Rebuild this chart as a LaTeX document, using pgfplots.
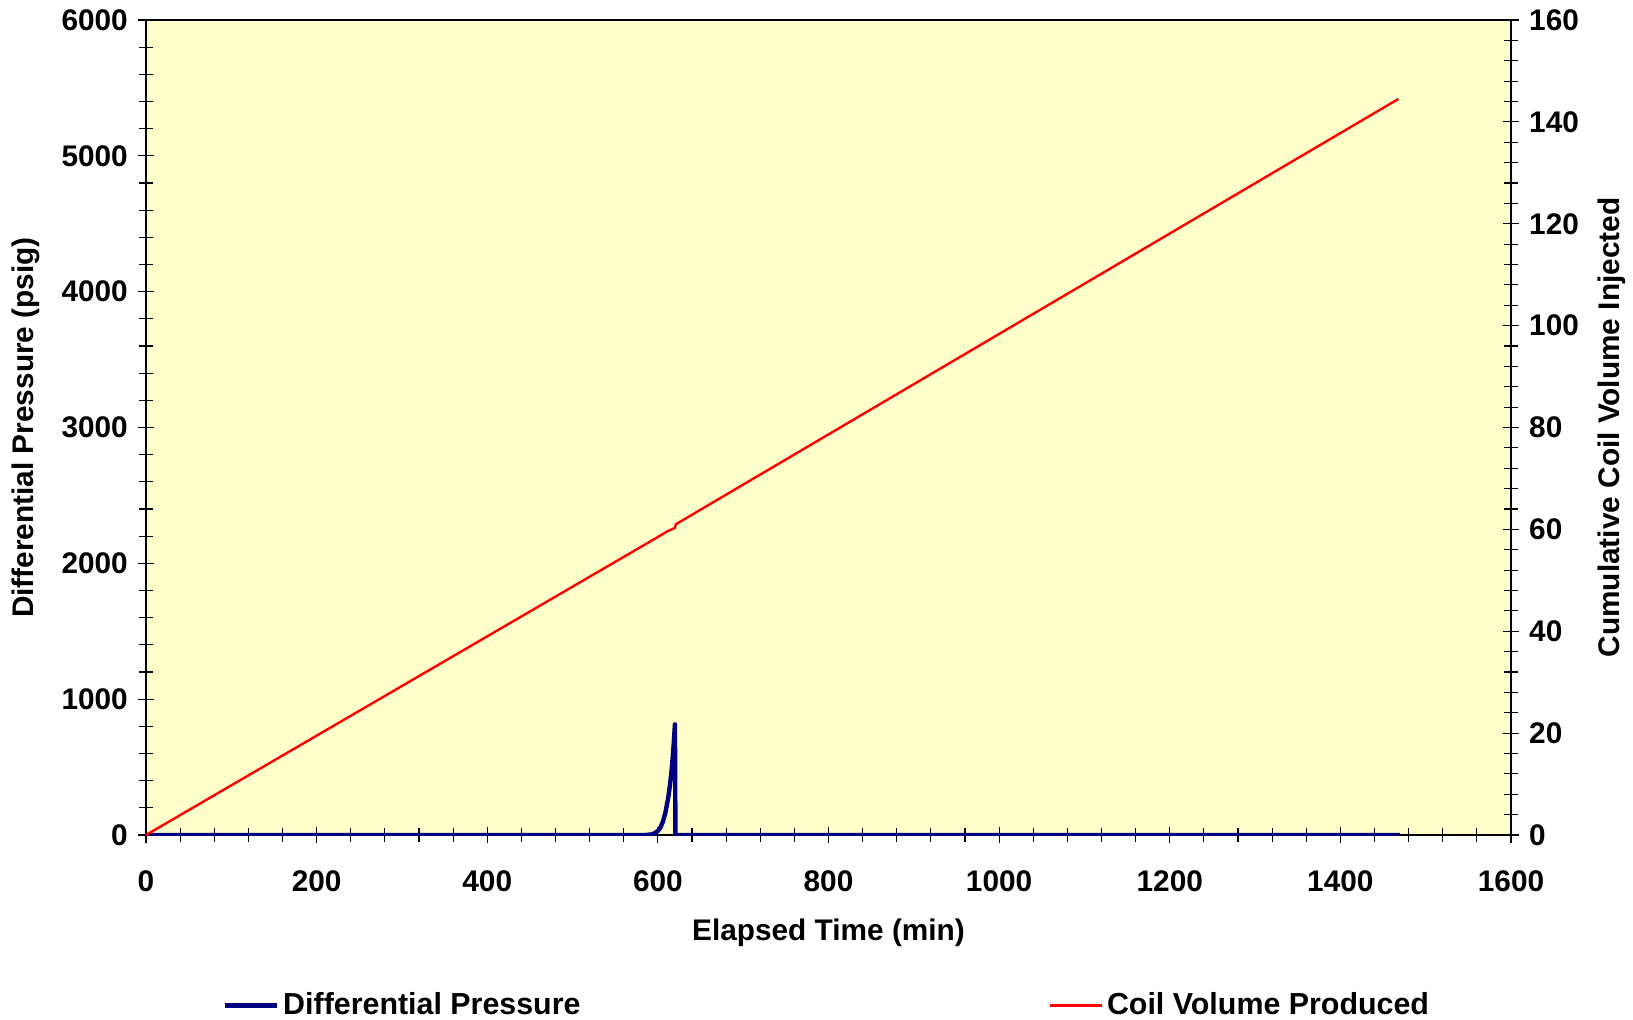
\documentclass[border=0pt]{standalone}
\usepackage{pgfplots}
\pgfplotsset{compat=1.18}
\usepackage{fontspec}
\setmainfont{Liberation Sans}
\definecolor{bgyellow}{HTML}{FFFFCC}
\definecolor{dpblue}{HTML}{000080}
\begin{document}
\fontsize{14.7pt}{17pt}\selectfont\bfseries
\begin{tikzpicture}
\useasboundingbox (-73pt,-92pt) rectangle (743.5pt,417.5pt);
\begin{axis}[
  scale only axis, width=682.5pt, height=407.5pt,
  xmin=0, xmax=1600, ymin=0, ymax=6000,
  xtick pos=bottom, ytick pos=left,
  axis background/.style={fill=bgyellow},
  xtick={0,200,...,1600}, minor x tick num=4,
  ytick={0,1000,...,6000}, minor y tick num=4,
  tick align=center, major tick length=8pt, minor tick length=7pt,
  tick style={black, line width=0.6pt},
  axis line style={black, line width=0.8pt},
  scaled ticks=false,
  /pgf/number format/set thousands separator={},
  /pgf/number format/assume math mode=true,
  tick label style={font=\fontsize{14.9pt}{17pt}\selectfont\bfseries},
  label style={font=\fontsize{14.9pt}{17pt}\selectfont\bfseries},
  xticklabel shift=8.6pt,
  xlabel={Elapsed Time (min)}, ylabel={Differential Pressure (psig)},
  xlabel style={at={(axis description cs:0.5,-0.1200)}, anchor=center},
  ylabel style={at={(axis description cs:-0.0879,0.5)}, anchor=center},
  legend style={at={(axis description cs:0.0560,-0.2090)}, anchor=west,
    draw=none, fill=none, legend columns=2, inner sep=0pt,
    font=\fontsize{15.2pt}{17pt}\selectfont\bfseries,
    /tikz/every even column/.append style={column sep=232pt}},
  legend image code/.code={\draw[#1] (0pt,0pt) -- (26pt,0pt);},
]
\addplot[dpblue, line width=2.2pt, line join=round] coordinates {
(0,0) (585,0) (592,4) (596,12) (600,30) (603,55) (606,100) (609,170) (612,270) (614,360) (616,470) (618,620) (620,815) (620.6,0) (1470,0)
};
\addlegendentry{Differential Pressure}
\addlegendimage{red, line width=1.2pt}
\addlegendentry{Coil Volume Produced}
\end{axis}
\begin{axis}[
  scale only axis, width=682.5pt, height=407.5pt,
  xmin=0, xmax=1600, ymin=0, ymax=160,
  hide x axis, axis y line*=right,
  ytick={0,20,...,160}, minor y tick num=4,
  tick align=center, major tick length=8pt, minor tick length=7pt,
  tick style={black, line width=0.6pt},
  axis line style={black, line width=0.8pt},
  /pgf/number format/assume math mode=true,
  tick label style={font=\fontsize{14.9pt}{17pt}\selectfont\bfseries},
  label style={font=\fontsize{14.9pt}{17pt}\selectfont\bfseries},
  ylabel={Cumulative Coil Volume Injected},
  ylabel style={at={(axis description cs:1.074,0.5)}, anchor=center, rotate=0},
]
\addplot[red, line width=1.2pt] coordinates {
(0,0) (600,58.5) (612,59.7) (619,60.2) (620,60.3) (621,61.0) (1468,144.5)
};
\end{axis}
\end{tikzpicture}
\end{document}
